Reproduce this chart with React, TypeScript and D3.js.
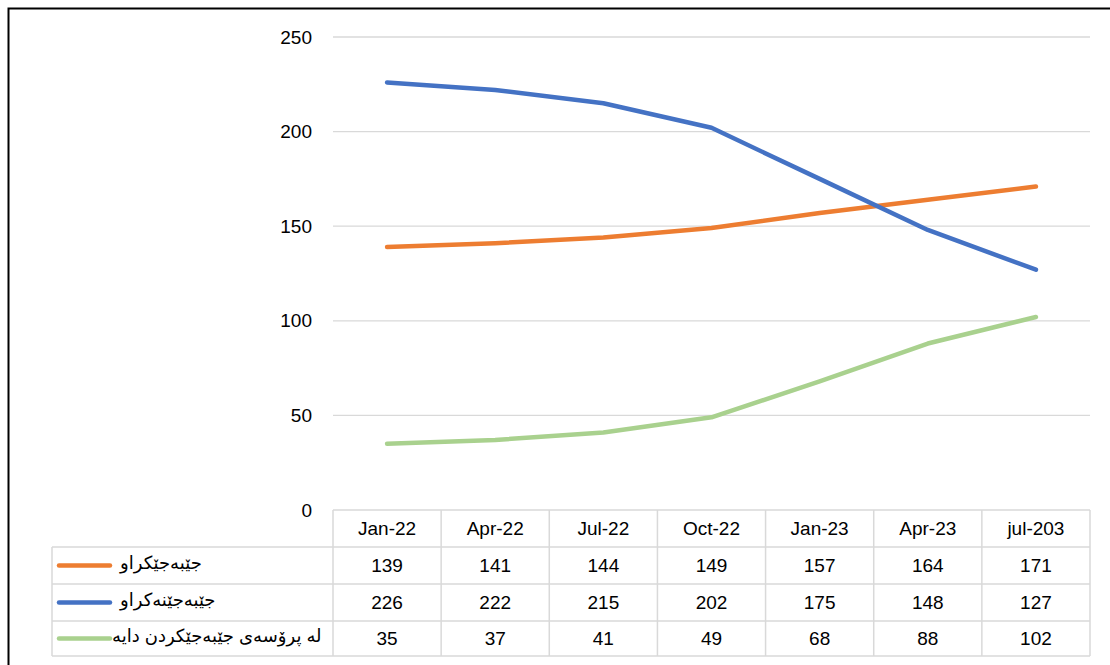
import React from 'react';
import * as d3 from 'd3';

const categories = ['Jan-22', 'Apr-22', 'Jul-22', 'Oct-22', 'Jan-23', 'Apr-23', 'jul-203'];
const seriesNames = ['جێبەجێکراو', 'جێبەجێنەکراو', 'لە پرۆسەی جێبەجێکردن دایە'];
const doneValues = [139, 141, 144, 149, 157, 164, 171];
const notDoneValues = [226, 222, 215, 202, 175, 148, 127];
const inProgressValues = [35, 37, 41, 49, 68, 88, 102];
const yTicks = [0, 50, 100, 150, 200, 250];
const colors = ['#ED7D31', '#4472C4', '#A9D18E'];

const W = 1110;
const H = 665;
const font = "'Liberation Sans', 'DejaVu Sans', sans-serif";

const App = () => {
  const series = [doneValues, notDoneValues, inProgressValues];

  // plot area
  const left = 333, right = 1090, top = 37, bottom = 510;
  const x = d3.scaleBand<string>().domain(categories).range([left, right]);
  const y = d3.scaleLinear().domain([0, 250]).range([bottom, top]);

  const line = d3.line<number>()
    .x((_, i) => x(categories[i])! + x.bandwidth() / 2)
    .y(d => y(d));

  // data table rows
  const legendLeft = 52;
  const rowEdges = [510, 547, 584, 621, 656];
  const gridColor = '#D9D9D9';

  return (
    <svg width={W} height={H} style={{ position: 'absolute', left: 0, top: 0, background: '#fff' }} fontFamily={font}>
      <rect x={8.5} y={8.5} width={1300} height={800} fill="#fff" stroke="#000" strokeWidth={2} />

      {/* gridlines + y labels */}
      {yTicks.map(t => (
        <g key={t}>
          {t > 0 && <line x1={left} x2={right} y1={y(t)} y2={y(t)} stroke={gridColor} strokeWidth={1.3} />}
          <text x={312} y={y(t)} dy="0.35em" textAnchor="end" fontSize={19} fill="#000">{t}</text>
        </g>
      ))}

      {/* table */}
      <g stroke={gridColor} strokeWidth={1.5} fill="none">
        <line x1={left} x2={right} y1={rowEdges[0]} y2={rowEdges[0]} />
        {rowEdges.slice(1).map(r => (
          <line key={r} x1={legendLeft} x2={right} y1={r} y2={r} />
        ))}
        <line x1={legendLeft} x2={legendLeft} y1={rowEdges[1]} y2={rowEdges[4]} />
        {categories.map(c => (
          <line key={c} x1={x(c)} x2={x(c)} y1={rowEdges[0]} y2={rowEdges[4]} />
        ))}
        <line x1={right} x2={right} y1={rowEdges[0]} y2={rowEdges[4]} />
      </g>

      {categories.map(c => (
        <text key={c} x={x(c)! + x.bandwidth() / 2} y={(rowEdges[0] + rowEdges[1]) / 2} dy="0.35em"
          textAnchor="middle" fontSize={19} fill="#000">{c}</text>
      ))}

      {series.map((vals, si) => {
        const cy = (rowEdges[si + 1] + rowEdges[si + 2]) / 2;
        return (
          <g key={si}>
            <line x1={59} x2={110} y1={cy} y2={cy} stroke={colors[si]} strokeWidth={4.5} strokeLinecap="round" />
            <text x={si === 2 ? 112 : 120} y={cy - 3} dy="0.35em" fontSize={18} fill="#000">{seriesNames[si]}</text>
            {vals.map((v, i) => (
              <text key={i} x={x(categories[i])! + x.bandwidth() / 2} y={cy} dy="0.35em"
                textAnchor="middle" fontSize={19} fill="#000">{v}</text>
            ))}
          </g>
        );
      })}

      {/* lines */}
      {series.map((vals, si) => (
        <path key={si} d={line(vals)!} fill="none" stroke={colors[si]} strokeWidth={4.5}
          strokeLinecap="round" strokeLinejoin="round" />
      ))}
    </svg>
  );
};

export default App;
